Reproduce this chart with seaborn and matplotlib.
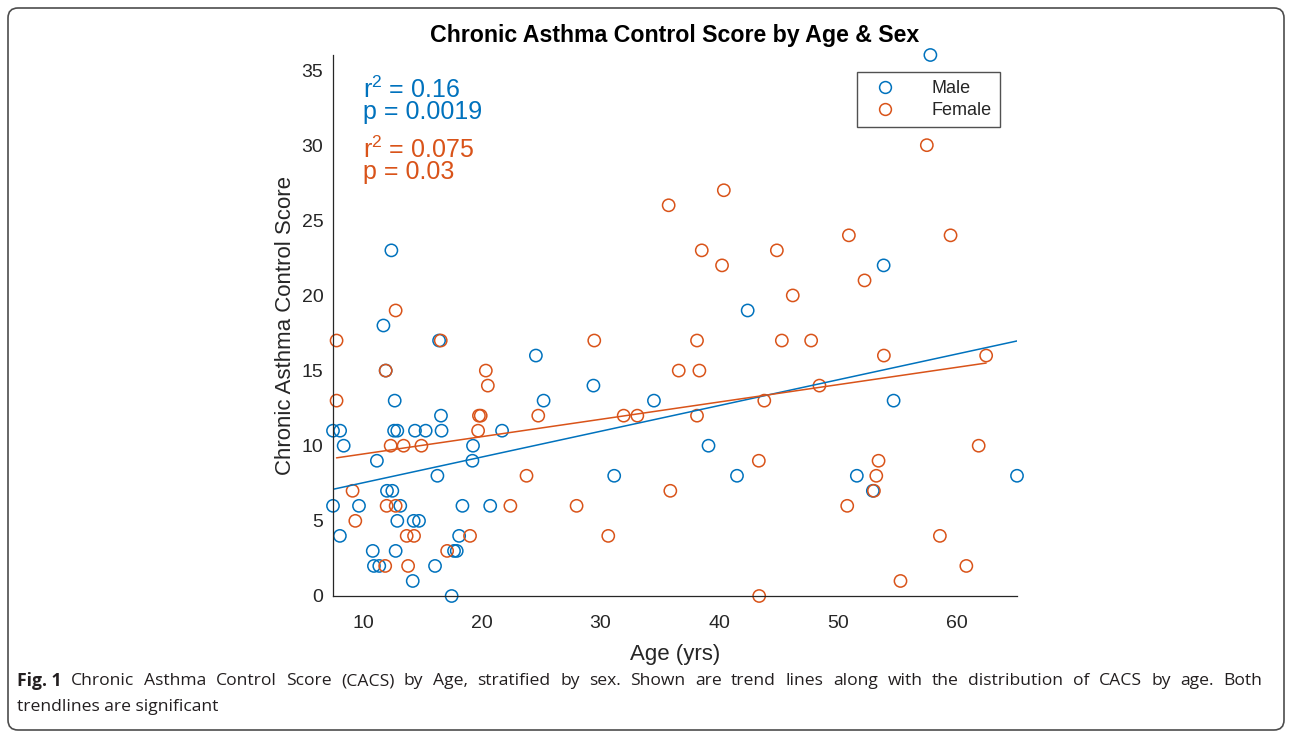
import numpy as np
import pandas as pd
import seaborn as sns
import matplotlib.pyplot as plt
from matplotlib.lines import Line2D
from matplotlib.patches import FancyBboxPatch

# Values: age (yrs) and CACS for each subject.
male_age = [7.45, 8.05, 8.35, 11.15, 12.65, 12.6, 12.87, 14.36, 15.26, 16.55,
            16.6, 19.25, 19.2, 21.7, 25.2, 34.5, 29.4, 16.25, 31.15, 12.0,
            12.45, 7.45, 9.64, 13.12, 18.36, 20.7, 12.87, 14.25, 14.7, 8.03,
            18.08, 10.8, 12.73, 17.65, 17.88, 10.9, 11.35, 16.05, 14.17, 17.45,
            12.37, 11.7, 16.39, 11.89, 24.55, 53.86, 42.4, 54.7, 39.1, 41.5,
            51.6, 52.95, 65.1, 57.8]
male_score = [11, 11, 10, 9, 13, 11, 11, 11, 11, 12,
              11, 10, 9, 11, 13, 13, 14, 8, 8, 7,
              7, 6, 6, 6, 6, 6, 5, 5, 5, 4,
              4, 3, 3, 3, 3, 2, 2, 2, 1, 0,
              23, 18, 17, 15, 16, 22, 19, 13, 10, 8,
              8, 7, 8, 36]

female_age = [7.75, 7.75, 12.31, 13.4, 14.9, 19.75, 19.9, 19.68, 24.75, 31.95,
              33.1, 20.5, 20.33, 23.76, 9.1, 11.97, 12.73, 22.4, 27.98, 9.33,
              13.66, 14.28, 19.0, 30.65, 17.07, 11.85, 13.78, 12.73, 16.53, 11.89,
              29.47, 35.74, 40.39, 38.53, 40.24, 44.86, 50.93, 59.5, 52.25, 46.2,
              38.13, 45.28, 47.75, 36.59, 38.33, 53.88, 62.5, 43.8, 48.45, 38.13,
              43.34, 35.88, 53.24, 53.43, 53.04, 50.79, 58.6, 60.83, 55.28, 43.37,
              61.87, 57.5]
female_score = [13, 17, 10, 10, 10, 12, 12, 11, 12, 12,
                12, 14, 15, 8, 7, 6, 6, 6, 6, 5,
                4, 4, 4, 4, 3, 2, 2, 19, 17, 15,
                17, 26, 27, 23, 22, 23, 24, 24, 21, 20,
                17, 17, 17, 15, 15, 16, 16, 13, 14, 12,
                9, 7, 8, 9, 7, 6, 4, 2, 1, 0,
                10, 30]

sexes = ["Male", "Female"]
stats_text = {"Male": ("0.16", "0.0019"), "Female": ("0.075", "0.03")}
colors = {"Male": "#0072BD", "Female": "#D95319"}

caption_line1 = ("Chronic Asthma Control Score (CACS) by Age, stratified by sex. Shown are "
                 "trend lines along with the distribution of CACS by age. Both")
caption_line2 = "trendlines are significant"

df = pd.concat([
    pd.DataFrame({"Age": male_age, "CACS": male_score, "Sex": "Male"}),
    pd.DataFrame({"Age": female_age, "CACS": female_score, "Sex": "Female"}),
], ignore_index=True)

sns.set_style("white")
plt.rcParams["font.family"] = ["Liberation Sans", "DejaVu Sans"]
plt.rcParams["mathtext.fontset"] = "custom"
plt.rcParams["mathtext.rm"] = "Liberation Sans"
plt.rcParams["mathtext.default"] = "regular"

W, H = 1292, 738
fig = plt.figure(figsize=(W / 100, H / 100), dpi=100)
ax = fig.add_axes([333 / W, 1 - 596 / H, 684 / W, 541 / H])

sns.scatterplot(data=df, x="Age", y="CACS", hue="Sex", palette=colors,
                s=78, linewidth=1.1, legend=False, ax=ax)
# hollow circles like the original, not clipped at the axes edge
for coll in ax.collections:
    fc = coll.get_facecolors()
    coll.set_edgecolors(fc)
    coll.set_facecolors("none")
    coll.set_clip_on(False)

# least squares trend line per sex
for sex in sexes:
    sub = df[df["Sex"] == sex]
    k, b = np.polyfit(sub["Age"], sub["CACS"], 1)
    xs = np.array([sub["Age"].min(), sub["Age"].max()])
    ax.plot(xs, k * xs + b, color=colors[sex], lw=1.1)

ax.set_xlim(df["Age"].min(), df["Age"].max())
ax.set_ylim(df["CACS"].min(), df["CACS"].max())
ax.set_xticks(range(10, 61, 10))
ax.set_yticks(range(0, 36, 5))

dark = "#262626"
for side in ["top", "right"]:
    ax.spines[side].set_visible(False)
for side in ["left", "bottom"]:
    ax.spines[side].set_color(dark)
    ax.spines[side].set_linewidth(0.9)
ax.tick_params(direction="in", length=5, width=0.9, color=dark,
               labelcolor=dark, labelsize=14)
ax.tick_params(axis="x", pad=14)
ax.tick_params(axis="y", pad=7)

ax.set_xlabel("Age (yrs)", fontsize=16, color=dark, labelpad=8)
ax.set_ylabel("Chronic Asthma Control Score", fontsize=16, color=dark, labelpad=4)
ax.set_title("Chronic Asthma Control Score by Age & Sex", fontsize=16.7,
             fontweight="bold", color="black", pad=9)

for sex, y0 in zip(sexes, [33, 29]):
    r2, p = stats_text[sex]
    ax.text(10, y0, "r$^2$ = " + r2 + "\np = " + p, color=colors[sex],
            fontsize=18, va="center", linespacing=0.85)

handles = [Line2D([], [], marker="o", ls="none", mfc="none", mec=colors[s],
                  ms=8.5, mew=1.1) for s in sexes]
leg = ax.legend(handles, sexes, loc="upper right", bbox_to_anchor=(0.975, 0.969),
                fontsize=13, frameon=True, fancybox=False, edgecolor=dark,
                borderaxespad=0, handletextpad=1.5, borderpad=0.45,
                labelspacing=0.3, handlelength=2.2)
leg.get_frame().set_linewidth(1)

# caption below the plot, first line justified to the full width
cap_color = "#231f20"
cap_size = 12.6
renderer = fig.canvas.get_renderer()
y1 = 1 - 681 / H
tokens = [("Fig. 1", "bold")] + [(w, "normal") for w in caption_line1.split()]
texts = [fig.text(0, y1, w, fontsize=cap_size, fontweight=fw, family="Open Sans",
                  va="center", color=cap_color) for w, fw in tokens]
widths = [t.get_window_extent(renderer).width for t in texts]
x_left, x_right = 17, 1262
gap = (x_right - x_left - sum(widths)) / (len(texts) - 1)
x = x_left
for t, w in zip(texts, widths):
    t.set_x(x / W)
    x += w + gap
fig.text(17 / W, 1 - 707 / H, caption_line2, fontsize=cap_size,
         family="Open Sans", va="center", color=cap_color)

border = FancyBboxPatch((0.08, 0.08), W / 100 - 0.16, H / 100 - 0.16,
                        boxstyle="round,pad=0,rounding_size=0.1",
                        transform=fig.dpi_scale_trans, fill=False,
                        ec="#4d4d4d", lw=1.2)
fig.patches.append(border)

fig.savefig("out.png", dpi=100)
